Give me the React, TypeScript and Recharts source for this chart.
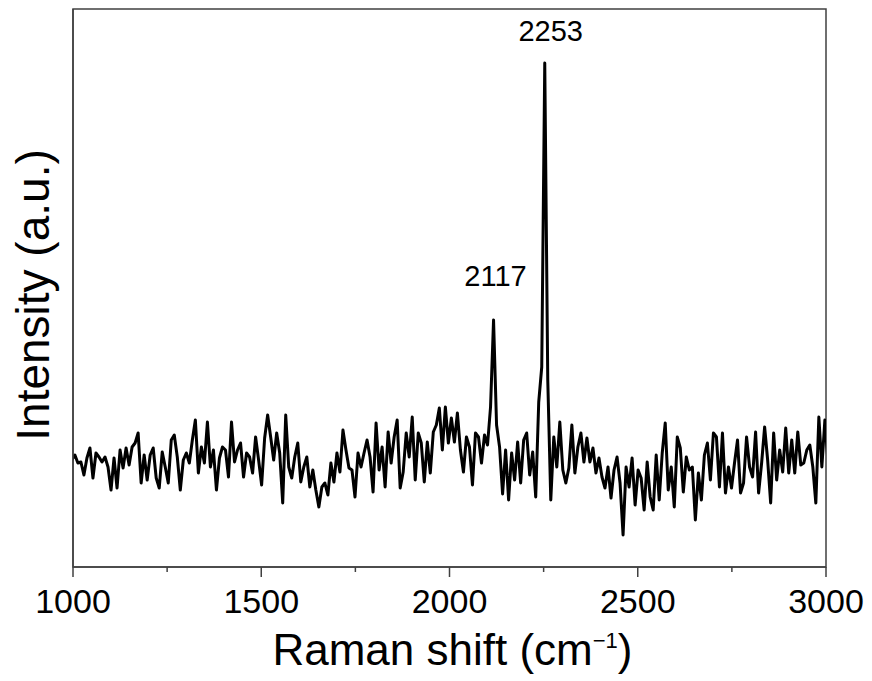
import React from "react";
import {
  LineChart,
  Line,
  XAxis,
  YAxis,
  ReferenceArea,
  ReferenceDot,
} from "recharts";

// Raman spectrum, sampled every 8 cm-1 starting at 997 cm-1 (intensity in a.u.)
const START_SHIFT = 997;
const STEP = 8;

const band1000 = [
  107, 112, 104, 105, 92, 109, 119, 89, 114, 110, 105, 110, 100, 77, 109, 79,
  117, 99, 119, 102, 120, 124, 134, 84, 112, 87, 112, 119, 89, 79, 115, 100,
  84, 127, 132, 110, 77, 107, 114, 104, 127, 147, 94, 120, 104, 145, 100, 117,
  77, 109,
];
const band1400 = [
  120, 117, 90, 145, 105, 117, 124, 90, 114, 110, 94, 130, 107, 82, 129, 152,
  130, 107, 134, 114, 64, 152, 100, 89, 110, 124, 85, 100, 110, 80, 97, 77, 60,
  80, 84, 72, 104, 85, 114, 95, 137, 117, 99, 97, 70, 114, 100, 114, 127, 110,
];
const band1800 = [
  75, 144, 97, 120, 80, 135, 104, 130, 147, 79, 95, 134, 110, 150, 87, 134, 124,
  85, 125, 94, 135, 142, 159, 117, 160, 124, 149, 125, 154, 117, 95, 130, 120,
  82, 134, 130, 104, 132, 122, 160, 247, 142, 120, 73, 117, 67, 114, 87, 125,
  84,
];
const band2200 = [
  127, 134, 92, 115, 70, 165, 200, 504, 187, 67, 130, 100, 145, 97, 84, 99, 142,
  94, 120, 134, 105, 129, 105, 119, 94, 109, 90, 79, 100, 69, 97, 110, 84, 32,
  100, 80, 109, 62, 97, 89, 57, 105, 70, 57, 112, 67, 114, 144, 77, 100,
];
const band2600 = [
  60, 130, 119, 75, 110, 97, 100, 47, 94, 67, 112, 124, 87, 134, 130, 80, 134,
  74, 100, 79, 104, 127, 74, 84, 130, 100, 90, 135, 74, 104, 140, 107, 64, 134,
  87, 117, 95, 139, 94, 127, 94, 135, 102, 104, 117, 122, 100, 64, 150, 100,
  147, 107,
];

const intensity = [...band1000, ...band1400, ...band1800, ...band2200, ...band2600];
const spectrum = intensity.map((value, i) => ({
  shift: START_SHIFT + STEP * i,
  intensity: value,
}));

const xTicks = [1000, 1250, 1500, 1750, 2000, 2250, 2500, 2750, 3000];
const majorTicks = [1000, 1500, 2000, 2500, 3000];
const peaks = [
  { shift: 2117, intensity: 247, label: "2117", dx: 2, gap: 34 },
  { shift: 2253, intensity: 504, label: "2253", dx: 6, gap: 22 },
];

const FONT = "'Liberation Sans', Arial, Helvetica, sans-serif";
const AXIS_COLOR = "#404040";
const TICK_SIZE = 10;
const TICK_MARGIN = 12;

const ShiftTick = (props: any) => {
  const { x, y, payload } = props;
  const major = majorTicks.includes(payload.value);
  const axisY = y - TICK_SIZE - TICK_MARGIN;
  return (
    <g>
      <line
        x1={x}
        x2={x}
        y1={axisY}
        y2={axisY + (major ? 10 : 5)}
        stroke={AXIS_COLOR}
        strokeWidth={1.5}
      />
      {major && (
        <text
          x={x}
          y={y}
          dy="0.71em"
          textAnchor="middle"
          fontFamily={FONT}
          fontSize={34}
          fill="#000"
        >
          {payload.value}
        </text>
      )}
    </g>
  );
};

const XTitle = (props: any) => {
  const { viewBox } = props;
  return (
    <text
      x={viewBox.x + viewBox.width / 2 + 3}
      y={viewBox.y + 98}
      textAnchor="middle"
      fontFamily={FONT}
      fontSize={44}
      fill="#000"
    >
      <tspan>Raman shift (cm</tspan>
      <tspan fontSize={22} dy={-17}>
        −1
      </tspan>
      <tspan dy={17}>)</tspan>
    </text>
  );
};

const YTitle = (props: any) => {
  const { viewBox } = props;
  const x = viewBox.x + 49;
  const y = viewBox.y + viewBox.height / 2 + 7;
  return (
    <text
      x={x}
      y={y}
      transform={`rotate(-90, ${x}, ${y})`}
      textAnchor="middle"
      fontFamily={FONT}
      fontSize={46}
      fill="#000"
    >
      Intensity (a.u.)
    </text>
  );
};

const PeakLabel = (props: any) => {
  const { viewBox, text, dx, gap } = props;
  return (
    <text
      x={viewBox.x + viewBox.width / 2 + dx}
      y={viewBox.y - gap}
      textAnchor="middle"
      fontFamily={FONT}
      fontSize={29}
      fill="#000"
    >
      {text}
    </text>
  );
};

const App: React.FC = () => {
  return (
    <div style={{ position: "absolute", left: 0, top: 0, background: "#fff" }}>
      <LineChart
        width={872}
        height={681}
        data={spectrum}
        margin={{ top: 9, right: 46, bottom: 0, left: 0 }}
      >
        <XAxis
          dataKey="shift"
          type="number"
          domain={[1000, 3000]}
          ticks={xTicks}
          allowDataOverflow
          height={114}
          axisLine={{ stroke: AXIS_COLOR, strokeWidth: 1.5 }}
          tickLine={false}
          tickSize={TICK_SIZE}
          tickMargin={TICK_MARGIN}
          tick={<ShiftTick />}
          interval={0}
          label={<XTitle />}
        />
        <YAxis
          type="number"
          domain={[0, 558]}
          allowDataOverflow
          width={73}
          tick={false}
          tickLine={false}
          axisLine={{ stroke: AXIS_COLOR, strokeWidth: 1.5 }}
          label={<YTitle />}
        />
        <ReferenceArea
          x1={1000}
          x2={3000}
          y1={0}
          y2={558}
          fill="none"
          stroke={AXIS_COLOR}
          strokeWidth={1.5}
        />
        <Line
          type="linear"
          dataKey="intensity"
          stroke="#000"
          strokeWidth={3}
          strokeLinejoin="round"
          dot={false}
          isAnimationActive={false}
        />
        {peaks.map((p) => (
          <ReferenceDot
            key={p.label}
            x={p.shift}
            y={p.intensity}
            r={0}
            fill="none"
            stroke="none"
            label={<PeakLabel text={p.label} dx={p.dx} gap={p.gap} />}
          />
        ))}
      </LineChart>
    </div>
  );
};

export default App;
